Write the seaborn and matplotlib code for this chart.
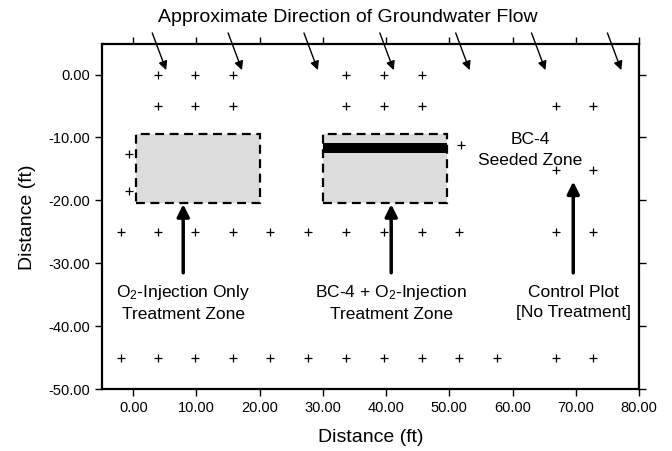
import numpy as np
import pandas as pd
import matplotlib
matplotlib.use("Agg")
import matplotlib.pyplot as plt
import seaborn as sns
from matplotlib.patches import Rectangle

# well locations (ft), read row by row
row0_x = [3.9, 9.8, 15.7, 33.6, 39.7, 45.6]
row5_x = [3.9, 9.8, 15.7, 33.6, 39.7, 45.6, 66.8, 72.8]
row25_x = [-2.0, 3.9, 9.8, 15.7, 21.7, 27.7, 33.6, 39.7, 45.6, 51.6, 66.8, 72.8]
row45_x = [-2.0, 3.9, 9.8, 15.7, 21.7, 27.7, 33.6, 39.7, 45.6, 51.6, 57.6, 66.8, 72.8]
extra_x = [-0.6, -0.6, 51.9, 66.8, 72.8]
extra_y = [-12.6, -18.5, -11.2, -15.2, -15.2]

# treatment zones: x0, x1, y0, y1
zone_x0 = [0.5, 30.0]
zone_x1 = [20.1, 49.6]
zone_y0 = [-20.4, -20.4]
zone_y1 = [-9.5, -9.5]
seed_bar = (30.0, 49.6, -12.4, -10.9)

# groundwater flow arrows (start x)
flow_x = [3.0, 15.0, 27.0, 39.0, 51.0, 63.0, 75.0]

# label arrows: x, tip y
lab_x = [7.9, 40.8, 69.6]
lab_tip = [-20.6, -20.6, -17.0]
lab_text = ["O$_2$-Injection Only\nTreatment Zone",
            "BC-4 + O$_2$-Injection\nTreatment Zone",
            "Control Plot\n[No Treatment]"]

wx = row0_x + row5_x + row25_x + row45_x + extra_x
wy = ([0.0] * len(row0_x) + [-5.0] * len(row5_x) + [-25.0] * len(row25_x)
      + [-45.0] * len(row45_x) + extra_y)
wells = pd.DataFrame({"x": wx, "y": wy})

sns.set_style("ticks")
plt.rcParams["font.family"] = ["Liberation Sans", "DejaVu Sans"]
plt.rcParams["mathtext.fontset"] = "custom"
plt.rcParams["mathtext.rm"] = "Liberation Sans"
plt.rcParams["mathtext.it"] = "Liberation Sans"
for k in ["text.color", "axes.labelcolor", "xtick.color", "ytick.color", "xtick.labelcolor", "ytick.labelcolor"]:
    plt.rcParams[k] = "black"

fig = plt.figure(figsize=(6.72, 4.51), dpi=100)
ax = fig.add_axes([0.1513, 0.1368, 0.7996, 0.765])

for x0, x1, y0, y1 in zip(zone_x0, zone_x1, zone_y0, zone_y1):
    ax.add_patch(Rectangle((x0, y0), x1 - x0, y1 - y0, facecolor="#dcdcdc",
                           edgecolor="black", linestyle=(0, (4, 2.5)), linewidth=1.6, zorder=1))
ax.add_patch(Rectangle((seed_bar[0], seed_bar[2]), seed_bar[1] - seed_bar[0],
                       seed_bar[3] - seed_bar[2], facecolor="black", edgecolor="none", zorder=2))

sns.scatterplot(data=wells, x="x", y="y", marker="+", s=36, color="black",
                linewidth=0.9, ax=ax, zorder=3)

for fx in flow_x:
    ax.annotate("", xy=(fx + 2.2, 0.7), xytext=(fx, 6.6), annotation_clip=False,
                arrowprops=dict(arrowstyle="-|>", color="black", lw=1.0,
                                mutation_scale=13, shrinkA=0, shrinkB=0))

for lx, tip, txt in zip(lab_x, lab_tip, lab_text):
    ax.annotate("", xy=(lx, tip), xytext=(lx, -31.5),
                arrowprops=dict(arrowstyle="-|>", color="black", lw=2.5,
                                mutation_scale=18, shrinkA=0, shrinkB=0))
    ax.text(lx, -36.2, txt, ha="center", va="center", fontsize=12.5, linespacing=1.45)

ax.text(62.8, -12.0, "BC-4\nSeeded Zone", ha="center", va="center", fontsize=12.5, linespacing=1.45)
ax.text(33.9, 9.1, "Approximate Direction of Groundwater Flow", ha="center", va="center",
        fontsize=14, clip_on=False)

ax.set_xlim(-5, 80)
ax.set_ylim(-50, 4.8)
ax.set_xticks(np.arange(0, 81, 10))
ax.set_yticks(np.arange(-50, 1, 10))
ax.xaxis.set_major_formatter(matplotlib.ticker.FormatStrFormatter("%.2f"))
ax.yaxis.set_major_formatter(matplotlib.ticker.FormatStrFormatter("%.2f"))
ax.tick_params(direction="out", top=True, right=True, length=5, width=1,
               labelsize=10.5, color="black")
for sp in ax.spines.values():
    sp.set_linewidth(1.6)
    sp.set_color("black")
ax.set_xlabel("Distance (ft)", fontsize=14, labelpad=10)
ax.set_ylabel("Distance (ft)", fontsize=14, labelpad=9)

fig.savefig("out.png", dpi=100)
